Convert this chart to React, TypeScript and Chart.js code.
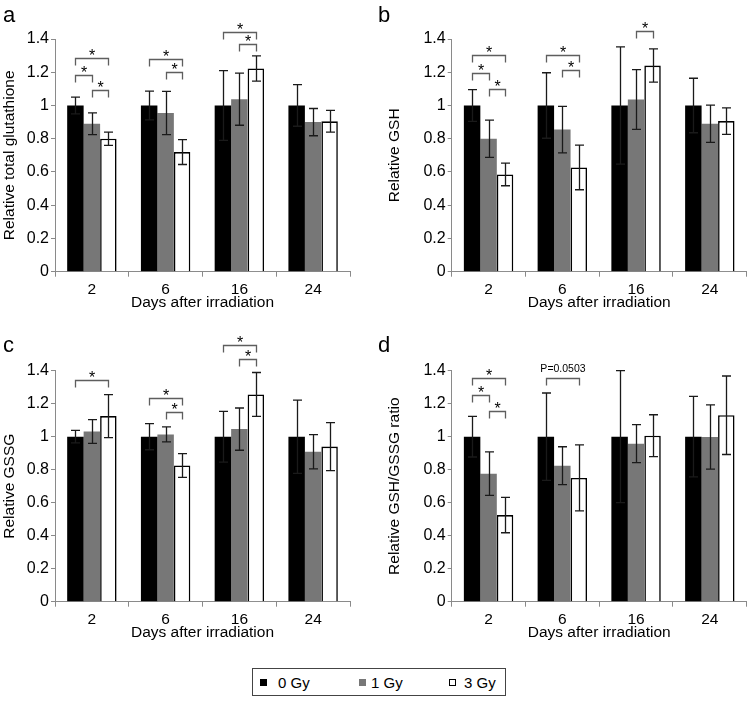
import React, { useEffect, useRef } from 'react';
import { Chart, registerables } from 'chart.js';

Chart.register(...registerables);

// ---------- data ----------
const days = ['2', '6', '16', '24'];
const doseLabels = ['0 Gy', '1 Gy', '3 Gy'];
const yTickLabels = ['0', '0.2', '0.4', '0.6', '0.8', '1', '1.2', '1.4'];
const xTitle = 'Days after irradiation';

// panel a: relative total glutathione
const aMean0 = [1, 1, 1, 1];
const aErr0 = [0.05, 0.087, 0.21, 0.125];
const aMean1 = [0.89, 0.955, 1.038, 0.9];
const aErr1 = [0.065, 0.13, 0.157, 0.082];
const aMean3 = [0.8, 0.72, 1.223, 0.905];
const aErr3 = [0.04, 0.075, 0.076, 0.065];

// panel b: relative GSH
const bMean0 = [1, 1, 1, 1];
const bErr0 = [0.096, 0.197, 0.353, 0.164];
const bMean1 = [0.8, 0.855, 1.036, 0.89];
const bErr1 = [0.112, 0.14, 0.18, 0.112];
const bMean3 = [0.585, 0.627, 1.24, 0.906];
const bErr3 = [0.068, 0.134, 0.1, 0.08];

// panel c: relative GSSG
const cMean0 = [1, 1, 1, 1];
const cErr0 = [0.038, 0.079, 0.154, 0.222];
const cMean1 = [1.032, 1.014, 1.046, 0.909];
const cErr1 = [0.072, 0.045, 0.128, 0.104];
const cMean3 = [1.125, 0.826, 1.256, 0.94];
const cErr3 = [0.13, 0.072, 0.133, 0.145];

// panel d: relative GSH/GSSG ratio
const dMean0 = [1, 1, 1, 1];
const dErr0 = [0.123, 0.265, 0.4, 0.244];
const dMean1 = [0.776, 0.824, 0.958, 0.998];
const dErr1 = [0.132, 0.115, 0.115, 0.195];
const dMean3 = [0.525, 0.75, 1.006, 1.13];
const dErr3 = [0.107, 0.2, 0.127, 0.238];

// significance brackets: [day index, from dose, to dose, height, label]
const aBrackets = [[0, 0, 2, 1.288, '*'], [0, 0, 1, 1.181, '*'], [0, 1, 2, 1.093, '*'], [1, 0, 2, 1.282, '*'], [1, 1, 2, 1.2, '*'], [2, 0, 2, 1.444, '*'], [2, 1, 2, 1.368, '*']];
const bBrackets = [[0, 0, 2, 1.303, '*'], [0, 0, 1, 1.193, '*'], [0, 1, 2, 1.097, '*'], [1, 0, 2, 1.303, '*'], [1, 1, 2, 1.213, '*'], [2, 1, 2, 1.45, '*']];
const cBrackets = [[0, 0, 2, 1.343, '*'], [1, 0, 2, 1.236, '*'], [1, 1, 2, 1.15, '*'], [2, 0, 2, 1.554, '*'], [2, 1, 2, 1.471, '*']];
const dBrackets = [[0, 0, 2, 1.358, '*'], [0, 0, 1, 1.25, '*'], [0, 1, 2, 1.154, '*'], [1, 0, 2, 1.358, 'P=0.0503']];

// ---------- styling ----------
const FONT = '"Liberation Sans", Arial, Helvetica, sans-serif';
const barColors = ['#000000', '#777777', '#ffffff'];
const axisColor = '#8a8a8a';

const extrasPlugin = {
  id: 'extras',
  afterDatasetsDraw(chart: any, _args: any, opts: any) {
    const ctx = chart.ctx;
    const ys = chart.scales.y;
    ctx.save();
    // error bars
    chart.data.datasets.forEach((ds: any, i: number) => {
      const meta = chart.getDatasetMeta(i);
      meta.data.forEach((bar: any, j: number) => {
        const v = ds.data[j];
        const e = opts.errors[i][j];
        const x = Math.round(bar.x) + 0.5;
        const yt = ys.getPixelForValue(v + e);
        const yb = ys.getPixelForValue(v - e);
        ctx.strokeStyle = '#1a1a1a';
        ctx.lineWidth = 1.3;
        ctx.beginPath();
        ctx.moveTo(x, yt);
        ctx.lineTo(x, yb);
        ctx.moveTo(x - 4.5, yt);
        ctx.lineTo(x + 4.5, yt);
        ctx.moveTo(x - 4.5, yb);
        ctx.lineTo(x + 4.5, yb);
        ctx.stroke();
      });
    });
    // brackets
    opts.brackets.forEach((b: any) => {
      const [d, s1, s2, h, label] = b;
      const x1 = Math.round(chart.getDatasetMeta(s1).data[d].x) + 0.5;
      const x2 = Math.round(chart.getDatasetMeta(s2).data[d].x) + 0.5;
      const yy = Math.round(ys.getPixelForValue(h)) + 0.5;
      ctx.strokeStyle = '#5e5e5e';
      ctx.lineWidth = 1.3;
      ctx.beginPath();
      ctx.moveTo(x1, yy + 7);
      ctx.lineTo(x1, yy);
      ctx.lineTo(x2, yy);
      ctx.lineTo(x2, yy + 7);
      ctx.stroke();
      ctx.fillStyle = '#000';
      ctx.textAlign = 'center';
      if (label === '*') {
        ctx.font = '16px ' + FONT;
        ctx.textBaseline = 'alphabetic';
        ctx.fillText('*', (x1 + x2) / 2, yy + 2);
      } else {
        ctx.font = '10.5px ' + FONT;
        ctx.textBaseline = 'middle';
        ctx.fillText(label, (x1 + x2) / 2, yy - 9);
      }
    });
    // panel letter
    ctx.fillStyle = '#000';
    ctx.font = '22px ' + FONT;
    ctx.textAlign = 'left';
    ctx.textBaseline = 'alphabetic';
    ctx.fillText(opts.letter, opts.letterX, opts.letterY);
    ctx.restore();
  },
};

type PanelCfg = {
  letter: string;
  yTitle: string;
  means: number[][];
  errors: number[][];
  brackets: any[];
  left: number;
  top: number;
  padLeft: number;
  padRight: number;
  padTop: number;
  yW: number;
  xH: number;
};

const CANVAS_W = 375;
const CANVAS_H = 312;

function Panel({ cfg }: { cfg: PanelCfg }) {
  const ref = useRef<HTMLCanvasElement | null>(null);
  useEffect(() => {
    if (!ref.current) return;
    const chart = new Chart(ref.current, {
      type: 'bar',
      data: {
        labels: days,
        datasets: cfg.means.map((m, i) => ({
          label: doseLabels[i],
          data: m,
          backgroundColor: barColors[i],
          borderColor: '#000000',
          borderWidth: i === 2 ? 1.6 : 0,
          categoryPercentage: 0.67,
          barPercentage: 1.0,
        })),
      },
      options: {
        animation: false,
        responsive: false,
        maintainAspectRatio: false,
        layout: { padding: { left: cfg.padLeft, right: cfg.padRight, top: cfg.padTop, bottom: 0 } },
        plugins: {
          legend: { display: false },
          tooltip: { enabled: false },
          extras: {
            errors: cfg.errors,
            brackets: cfg.brackets,
            letter: cfg.letter,
            letterX: 3,
            letterY: 22,
          },
        } as any,
        scales: {
          x: {
            grid: { display: true, drawOnChartArea: false, drawTicks: true, tickLength: 5, color: axisColor, offset: true },
            border: { display: true, color: axisColor, width: 1 },
            ticks: { color: '#000', font: { family: FONT, size: 15.5 }, padding: 4 },
            title: { display: true, text: xTitle, color: '#000', font: { family: FONT, size: 15.5 }, padding: { top: 0, bottom: 0 } },
            afterFit: (s: any) => { s.height = cfg.xH; },
          },
          y: {
            min: 0,
            max: 1.4,
            ticks: {
              stepSize: 0.2,
              color: '#000',
              font: { family: FONT, size: 16 },
              padding: 2,
              callback: (_v: any, i: number) => yTickLabels[i],
            },
            grid: { display: true, drawOnChartArea: false, drawTicks: true, tickLength: 4, color: axisColor },
            border: { display: true, color: axisColor, width: 1 },
            title: { display: true, text: cfg.yTitle, color: '#000', font: { family: FONT, size: 15.5 }, padding: { top: 0, bottom: 0 } },
            afterFit: (s: any) => { s.width = cfg.yW; },
          },
        },
      } as any,
      plugins: [extrasPlugin as any],
    });
    return () => chart.destroy();
  }, []);
  return (
    <canvas
      ref={ref}
      width={CANVAS_W}
      height={CANVAS_H}
      style={{ position: 'absolute', left: cfg.left, top: cfg.top, width: CANVAS_W, height: CANVAS_H }}
    />
  );
}

const panels: PanelCfg[] = [
  { letter: 'a', yTitle: 'Relative total glutathione', means: [aMean0, aMean1, aMean3], errors: [aErr0, aErr1, aErr3], brackets: aBrackets, left: 0, top: 0, padLeft: 0, padRight: 25, padTop: 39, yW: 55, xH: 40.3 },
  { letter: 'b', yTitle: 'Relative GSH', means: [bMean0, bMean1, bMean3], errors: [bErr0, bErr1, bErr3], brackets: bBrackets, left: 375, top: 0, padLeft: 10, padRight: 3.3, padTop: 39, yW: 66.7, xH: 40.3 },
  { letter: 'c', yTitle: 'Relative GSSG', means: [cMean0, cMean1, cMean3], errors: [cErr0, cErr1, cErr3], brackets: cBrackets, left: 0, top: 330, padLeft: 0, padRight: 25, padTop: 40.7, yW: 55, xH: 40.3 },
  { letter: 'd', yTitle: 'Relative GSH/GSSG ratio', means: [dMean0, dMean1, dMean3], errors: [dErr0, dErr1, dErr3], brackets: dBrackets, left: 375, top: 330, padLeft: 10, padRight: 3.3, padTop: 40.7, yW: 66.7, xH: 40.3 },
];

const legendItems = [
  { sq: 7, tx: 25 },
  { sq: 106, tx: 118 },
  { sq: 196, tx: 211 },
];

export default function App() {
  return (
    <div style={{ position: 'absolute', left: 0, top: 0, width: 750, height: 702, background: '#fff', overflow: 'hidden' }}>
      {panels.map((p) => (
        <Panel key={p.letter} cfg={p} />
      ))}
      <div
        style={{
          position: 'absolute',
          left: 252,
          top: 668,
          width: 254,
          height: 28,
          border: '1px solid #444',
          boxSizing: 'border-box',
          fontFamily: FONT,
          fontSize: 15,
          color: '#000',
        }}
      >
        {legendItems.map((it, i) => (
          <React.Fragment key={i}>
            <div
              style={{
                position: 'absolute',
                left: it.sq,
                top: 10,
                width: 7,
                height: 7,
                boxSizing: 'border-box',
                background: barColors[i],
                border: i === 2 ? '1px solid #000' : 'none',
              }}
            />
            <span style={{ position: 'absolute', left: it.tx, top: 0, lineHeight: '27px', whiteSpace: 'nowrap' }}>
              {doseLabels[i]}
            </span>
          </React.Fragment>
        ))}
      </div>
    </div>
  );
}
